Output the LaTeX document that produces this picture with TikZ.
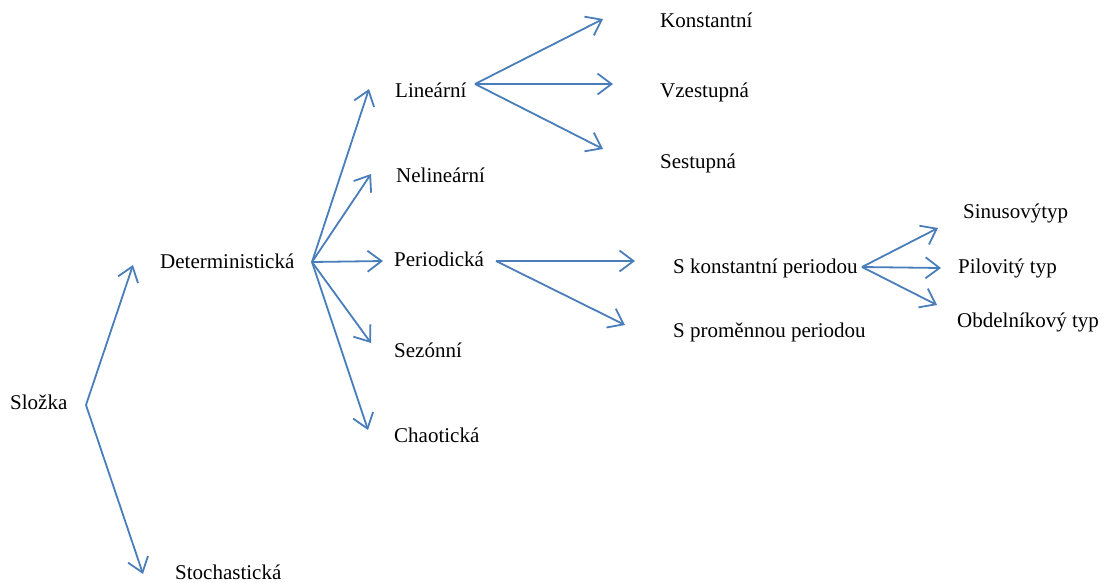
\documentclass[tikz,border=0pt]{standalone}
\usepackage{fontspec}
\setmainfont{Liberation Serif}
\usetikzlibrary{arrows.meta}
\definecolor{arrowblue}{HTML}{4A7EBB}
\tikzset{
    lbl/.style={anchor=base west, inner sep=0pt, font=\fontsize{21}{25}\selectfont},
    arr/.style={-{Straight Barb[length=14pt,width=21pt]}, line width=1.8pt, color=arrowblue},
}
\begin{document}
\begin{tikzpicture}[x=1pt,y=-1pt]
    \useasboundingbox (0,0) rectangle (1109,582);
    % labels, placed at their base lines
    \foreach \name/\x/\y/\lab in {slozka/10/409/{Složka}, det/160/268/{Deterministická}, sto/175/579/{Stochastická},
        lin/395/97/{Lineární}, nel/396/182/{Nelineární}, per/394/266/{Periodická}, sez/394/357/{Sezónní}, cha/394/442/{Chaotická},
        kst/660/27/{Konstantní}, vze/660/97/{Vzestupná}, ses/660/168/{Sestupná},
        skp/673/273/{S konstantní periodou}, spp/673/337/{S proměnnou periodou},
        sin/963/218/{Sinusovýtyp}, pil/958/273/{Pilovitý typ}, obd/957/327/{Obdelníkový typ}} {
        \node[lbl] (\name) at (\x,\y) {\lab};
    }
    % forks and arrow tips
    \foreach \c/\x/\y in {fslo/86/405, fdet/312/262, flin/475/84, fper/496/261, fskp/862/267,
        tdet/133/265, tsto/143/574, tlin/369/89, tnel/371/174, tper/383/261, tsez/371/343, tcha/368/430,
        tkst/603/19, tvze/613/84, tses/603/149, tskp/635/261, tspp/625/325,
        tsin/938/228, tpil/941/268, tobd/937/305} {
        \coordinate (\c) at (\x,\y);
    }
    \foreach \f/\t in {fslo/tdet, fslo/tsto, fdet/tlin, fdet/tnel, fdet/tper, fdet/tsez, fdet/tcha,
        flin/tkst, flin/tvze, flin/tses, fper/tskp, fper/tspp, fskp/tsin, fskp/tpil, fskp/tobd} {
        \draw[arr] (\f) -- (\t);
    }
\end{tikzpicture}
\end{document}
